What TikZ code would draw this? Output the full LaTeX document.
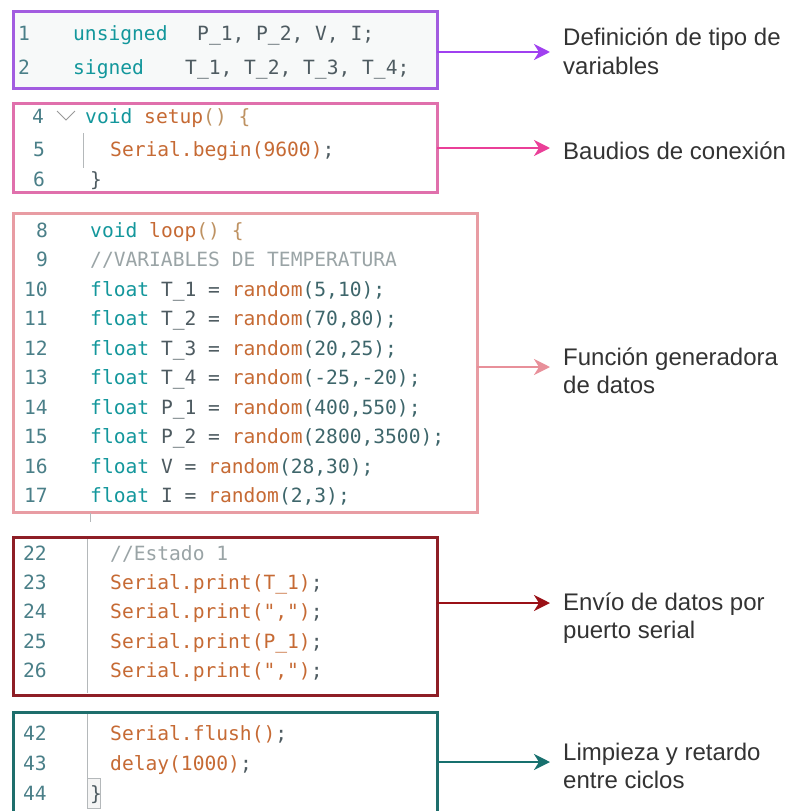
\documentclass[tikz,border=0pt]{standalone}
\usepackage{fontspec}
\setmainfont{Liberation Sans}
\setmonofont{DejaVu Sans Mono}
\usetikzlibrary{arrows.meta}
\definecolor{bpurple}{HTML}{A25CE0}
\definecolor{apurple}{HTML}{A040F0}
\definecolor{bpink}{HTML}{E070AC}
\definecolor{apink}{HTML}{EA3F98}
\definecolor{bsalmon}{HTML}{E89CA3}
\definecolor{asalmon}{HTML}{E8909A}
\definecolor{bdred}{HTML}{8E1E26}
\definecolor{adred}{HTML}{9A1016}
\definecolor{bteal}{HTML}{1E6E6C}
\definecolor{ateal}{HTML}{17706E}
\definecolor{ckw}{HTML}{13979C}
\definecolor{cfn}{HTML}{C66A34}
\definecolor{cnum}{HTML}{3E666B}
\definecolor{ctx}{HTML}{4E5B61}
\definecolor{ccm}{HTML}{9AA4A6}
\definecolor{cbr}{HTML}{BE9262}
\definecolor{clnum}{HTML}{4A7F88}
\definecolor{clabel}{HTML}{333333}
\definecolor{cguide}{HTML}{B4B8BA}
\definecolor{cbg}{HTML}{F7F9F9}
\newcommand\codek[1]{\textcolor{ckw}{#1}}
\newcommand\codef[1]{\textcolor{cfn}{#1}}
\newcommand\coden[1]{\textcolor{cnum}{#1}}
\newcommand\codet[1]{\textcolor{ctx}{#1}}
\newcommand\codec[1]{\textcolor{ccm}{#1}}
\newcommand\codeb[1]{\textcolor{cbr}{#1}}
\tikzset{
  codebox/.style={draw, line width=3pt, inner sep=0pt, outer sep=0pt, anchor=north west},
  code/.style={anchor=base west, inner sep=0pt, font=\fontsize{19.6}{22}\ttfamily, text=ctx},
  lnum/.style={code, text=clnum},
  lnumr/.style={anchor=base east, inner sep=0pt, font=\fontsize{19.6}{22}\ttfamily, text=clnum},
  lbl/.style={anchor=base west, inner sep=0pt, font=\fontsize{24}{28}\selectfont, text=clabel},
  conn/.style={line width=2.6pt, -{Stealth[length=16pt,width=16pt,inset=5pt]}},
  guide/.style={draw=cguide, line width=1pt}
}
\begin{document}
\begin{tikzpicture}[x=1pt,y=-1pt]
\useasboundingbox (0,0) rectangle (798,811);
\clip (0,0) rectangle (798,811);

% ---------- Box 1 ----------
\node[codebox, draw=bpurple, fill=cbg, minimum width=424pt, minimum height=77pt] (b1) at (13,11) {};
\node[lnum] (n1) at (18,40) {1};
\node[lnum] (n2) at (18,74) {2};
\node[code] (c1a) at (73,40) {\codek{unsigned}};
\node[code] (c1b) at (197,40) {P\_1, P\_2, V, I;};
\node[code] (c2a) at (73,74) {\codek{signed}};
\node[code] (c2b) at (185,74) {T\_1, T\_2, T\_3, T\_4;};

% ---------- Box 2 ----------
\node[codebox, draw=bpink, fill=white, minimum width=424pt, minimum height=89pt] (b2) at (13,103) {};
\node[lnum] (n4) at (32,123) {4};
\node[lnum] (n5) at (33,156) {5};
\node[lnum] (n6) at (33,186) {6};
\draw[draw=gray!80, line width=1pt] (57,111) -- (66,120) -- (75,111);
\node[code] (c4) at (85,123) {\codek{void} \codef{setup}\codeb{() \{}};
\node[code] (c5) at (110,156) {\codef{Serial.begin(9600)}\codet{;}};
\node[code] (c6) at (90,186) {\codet{\}}};
\draw[guide] (83,133) -- (83,168);

% ---------- Box 3 ----------
\node[codebox, draw=bsalmon, fill=white, minimum width=464pt, minimum height=299pt] (b3) at (13,213) {};
\node[lnumr] (n8)  at (48,237)   {8};
\node[lnumr] (n9)  at (48,266.5) {9};
\node[lnumr] (n10) at (48,296)   {10};
\node[lnumr] (n11) at (48,325.5) {11};
\node[lnumr] (n12) at (48,355)   {12};
\node[lnumr] (n13) at (48,384.5) {13};
\node[lnumr] (n14) at (48,414)   {14};
\node[lnumr] (n15) at (48,443.5) {15};
\node[lnumr] (n16) at (48,473)   {16};
\node[lnumr] (n17) at (48,502.5) {17};
\node[code] (c8)  at (90,237)   {\codek{void} \codef{loop}\codeb{() \{}};
\node[code] (c9)  at (90,266.5) {\codec{//VARIABLES DE TEMPERATURA}};
\node[code] (c10) at (90,296)   {\codek{float} T\_1 = \codef{random}\coden{(5,10);}};
\node[code] (c11) at (90,325.5) {\codek{float} T\_2 = \codef{random}\coden{(70,80);}};
\node[code] (c12) at (90,355)   {\codek{float} T\_3 = \codef{random}\coden{(20,25);}};
\node[code] (c13) at (90,384.5) {\codek{float} T\_4 = \codef{random}\coden{(-25,-20);}};
\node[code] (c14) at (90,414)   {\codek{float} P\_1 = \codef{random}\coden{(400,550);}};
\node[code] (c15) at (90,443.5) {\codek{float} P\_2 = \codef{random}\coden{(2800,3500);}};
\node[code] (c16) at (90,473)   {\codek{float} V = \codef{random}\coden{(28,30);}};
\node[code] (c17) at (90,502.5) {\codek{float} I = \codef{random}\coden{(2,3);}};
\draw[guide] (90,513) -- (90,522);

% ---------- Box 4 ----------
\node[codebox, draw=bdred, fill=white, minimum width=424pt, minimum height=158pt] (b4) at (13,537) {};
\draw[guide] (87,539) -- (87,693);
\node[lnum] (n22) at (23,560)   {22};
\node[lnum] (n23) at (23,589.3) {23};
\node[lnum] (n24) at (23,618.6) {24};
\node[lnum] (n25) at (23,648)   {25};
\node[lnum] (n26) at (23,677)   {26};
\node[code] (c22) at (110,560)   {\codec{//Estado 1}};
\node[code] (c23) at (110,589.3) {\codef{Serial.print(T\_1)}\codet{;}};
\node[code] (c24) at (110,618.6) {\codef{Serial.print(",")}\codet{;}};
\node[code] (c25) at (110,648)   {\codef{Serial.print(P\_1)}\codet{;}};
\node[code] (c26) at (110,677)   {\codef{Serial.print(",")}\codet{;}};

% ---------- Box 5 ----------
\node[codebox, draw=bteal, fill=white, minimum width=424pt, minimum height=112pt] (b5) at (13,712) {};
\draw[guide] (87,714) -- (87,778);
\node[lnum] (n42) at (23,740) {42};
\node[lnum] (n43) at (23,770) {43};
\node[lnum] (n44) at (23,800) {44};
\node[code] (c42) at (110,740) {\codef{Serial.flush()}\codet{;}};
\node[code] (c43) at (110,770) {\codef{delay(1000)}\codet{;}};
\draw[draw=cguide, fill=gray!8, line width=0.8pt] (87.5,778) rectangle (100,808);
\node[code] (c44) at (90,800) {\codet{\}}};

% ---------- Labels ----------
\node[lbl] (l1a) at (563,45)  {Definición de tipo de};
\node[lbl] (l1b) at (563,74)  {variables};
\node[lbl] (l2)  at (563,159) {Baudios de conexión};
\node[lbl] (l3a) at (563,365) {Función generadora};
\node[lbl] (l3b) at (563,393) {de datos};
\node[lbl] (l4a) at (563,610) {Envío de datos por};
\node[lbl] (l4b) at (563,638) {puerto serial};
\node[lbl] (l5a) at (563,760) {Limpieza y retardo};
\node[lbl] (l5b) at (563,788) {entre ciclos};

% ---------- Connectors ----------
\coordinate (t1) at (550,52);
\coordinate (t2) at (550,148);
\coordinate (t3) at (550,367);
\coordinate (t4) at (550,603);
\coordinate (t5) at (550,762);
\draw[conn, apurple] (b1.east |- t1) -- (t1);
\draw[conn, apink]   (b2.east |- t2) -- (t2);
\draw[conn, asalmon] (b3.east |- t3) -- (t3);
\draw[conn, adred]   (b4.east |- t4) -- (t4);
\draw[conn, ateal]   (b5.east |- t5) -- (t5);
\end{tikzpicture}
\end{document}
